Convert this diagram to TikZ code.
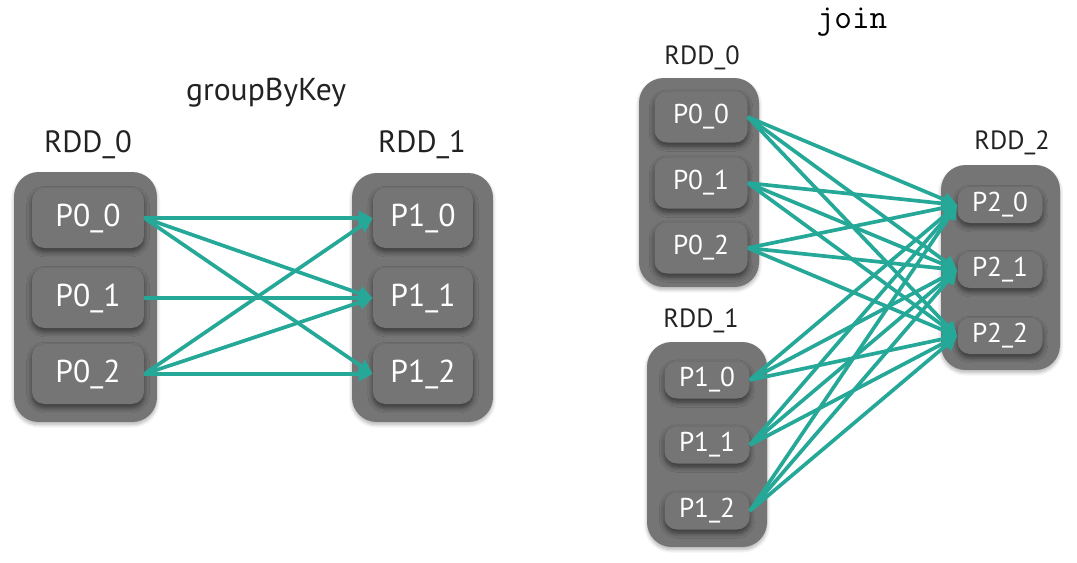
\documentclass[tikz,border=0pt]{standalone}
\usepackage{fontspec}
\setmainfont{PT Sans}
\usetikzlibrary{arrows.meta,shadows.blur}
\definecolor{slate}{RGB}{117, 117, 117}
\definecolor{inkgray}{RGB}{34, 34, 34}
\definecolor{tealarrow}{RGB}{38, 168, 152}

\tikzset{
    rddbox/.style={fill=slate, rounded corners=14pt, inner sep=0pt,
                   blur shadow={shadow xshift=0pt, shadow yshift=-1.5pt, shadow opacity=30, shadow blur steps=6}},
    partbox/.style={fill=slate, rounded corners=7pt, inner sep=0pt, text=white,
                    blur shadow={shadow xshift=0pt, shadow yshift=-2pt, shadow opacity=55, shadow blur steps=6, shadow blur radius=3pt}},
    rddlabel/.style={text=inkgray},
    shuffle/.style={draw=tealarrow, line width=2.1pt, -{Triangle[length=8pt, width=8pt]}},
}

\begin{document}
\begin{tikzpicture}[x=0.02cm, y=-0.02cm]
            \useasboundingbox (0,0) rectangle (1077,562);
            % groupByKey
            \node[rddlabel, font=\fontsize{18}{21}\selectfont] (gbk)  at (266, 93) {groupByKey};
            \node[rddlabel, font=\fontsize{17.5}{21}\selectfont] (lab0) at ( 88,145) {RDD\_0};
            \node[rddlabel, font=\fontsize{17.5}{21}\selectfont] (lab1) at (422,145) {RDD\_1};
            \node[rddbox, minimum width=2.86cm, minimum height=5.00cm] (g0) at ( 85.5,297.0) {};
            \node[rddbox, minimum width=2.82cm, minimum height=4.98cm] (g1) at (422.5,297.5) {};
            \begin{scope}[every node/.style={partbox, minimum height=1.20cm, font=\fontsize{18}{21}\selectfont}]
            \node[minimum width=2.24cm] (a0) at ( 88,218) {P0\_0};
            \node[minimum width=2.24cm] (a1) at ( 88,298) {P0\_1};
            \node[minimum width=2.24cm] (a2) at ( 88,374) {P0\_2};
            \node[minimum width=2.00cm] (b0) at (423,218) {P1\_0};
            \node[minimum width=2.00cm] (b1) at (423,298) {P1\_1};
            \node[minimum width=2.00cm] (b2) at (423,374) {P1\_2};
            \end{scope}
            \draw[shuffle] (a0.east) -- (b0.west);
            \draw[shuffle] (a0.east) -- (b1.west);
            \draw[shuffle] (a0.east) -- (b2.west);
            \draw[shuffle] (a1.east) -- (b1.west);
            \draw[shuffle] (a2.east) -- (b0.west);
            \draw[shuffle] (a2.east) -- (b1.west);
            \draw[shuffle] (a2.east) -- (b2.west);
            % join
            \node[text=black, font=\ttfamily\fontsize{19.5}{23}\selectfont] (jn) at (852, 22) {join};
            \node[rddlabel, font=\fontsize{15}{18}\selectfont] (jlab0) at ( 702, 58) {RDD\_0};
            \node[rddlabel, font=\fontsize{15}{18}\selectfont] (jlab1) at ( 701,321) {RDD\_1};
            \node[rddlabel, font=\fontsize{15}{18}\selectfont] (jlab2) at (1012,143) {RDD\_2};
            \node[rddbox, minimum width=2.40cm, minimum height=4.18cm] (j0) at ( 699.0,182.5) {};
            \node[rddbox, minimum width=2.40cm, minimum height=4.10cm] (j1) at ( 707.0,444.5) {};
            \node[rddbox, minimum width=2.38cm, minimum height=4.10cm] (j2) at (1000.5,267.5) {};
            \begin{scope}[every node/.style={partbox, font=\fontsize{15.5}{18}\selectfont}]
            \node[minimum width=1.86cm, minimum height=1.02cm] (p0) at ( 701,117) {P0\_0};
            \node[minimum width=1.86cm, minimum height=1.02cm] (p1) at ( 701,183) {P0\_1};
            \node[minimum width=1.86cm, minimum height=1.02cm] (p2) at ( 701,248) {P0\_2};
            \node[minimum width=1.70cm, minimum height=0.74cm] (q0) at ( 707,380) {P1\_0};
            \node[minimum width=1.70cm, minimum height=0.74cm] (q1) at ( 707,445) {P1\_1};
            \node[minimum width=1.70cm, minimum height=0.74cm] (q2) at ( 707,511) {P1\_2};
            \node[minimum width=1.70cm, minimum height=0.72cm] (r0) at (1000,205) {P2\_0};
            \node[minimum width=1.70cm, minimum height=0.72cm] (r1) at (1000,270) {P2\_1};
            \node[minimum width=1.70cm, minimum height=0.72cm] (r2) at (1000,336) {P2\_2};
            \end{scope}
            \foreach \src in {p0,p1,p2,q0,q1,q2}
                \foreach \dst in {r0,r1,r2}
                    \draw[shuffle] (\src.east) -- (\dst.west);
        \end{tikzpicture}
\end{document}
